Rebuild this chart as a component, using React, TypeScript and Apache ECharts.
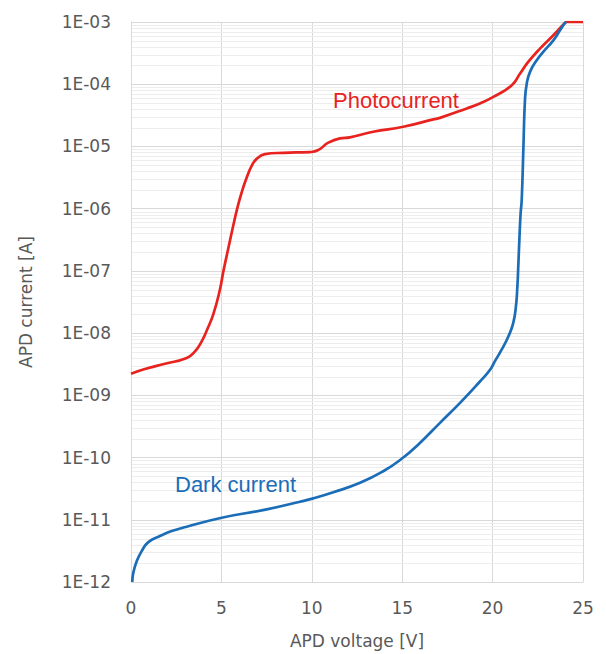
import React, { useEffect, useRef } from "react";
import * as echarts from "echarts";

// Photocurrent: [APD voltage (V), current (A)]
const photoVoltage = [0, 0.77, 1.88, 3.08, 3.54, 3.91, 4.19, 4.55, 4.92, 5.1, 5.38, 5.62, 5.88, 6.12, 6.4, 6.68, 6.95, 7.41, 8.42, 9.9, 10.36, 10.91, 11.56, 12.11, 13.4, 15.06, 16.72, 17.09, 18.57, 19.3, 20.04, 21.06, 21.52, 21.97, 22.62, 23.36, 24.0, 24.1, 25];
const photoCurrent = [2.23e-9, 2.65e-9, 3.22e-9, 3.98e-9, 5.08e-9, 7.35e-9, 1.1e-8, 2.0e-8, 5.01e-8, 9.55e-8, 2.29e-7, 4.79e-7, 1.02e-6, 1.82e-6, 3.16e-6, 4.9e-6, 6.31e-6, 7.53e-6, 7.91e-6, 8.13e-6, 8.75e-6, 1.15e-5, 1.35e-5, 1.4e-5, 1.72e-5, 2.07e-5, 2.72e-5, 2.88e-5, 4.08e-5, 4.91e-5, 6.27e-5, 9.64e-5, 1.49e-4, 2.28e-4, 3.74e-4, 6.12e-4, 9.64e-4, 1e-3, 1e-3];

// Dark current
const darkVoltage = [0.07, 0.13, 0.32, 0.59, 0.96, 1.6, 2.25, 3.08, 5.02, 7.51, 9.35, 10.03, 11.19, 12.67, 13.95, 14.97, 15.98, 17.09, 18.2, 19.3, 19.86, 20.13, 20.5, 20.87, 21.14, 21.29, 21.37, 21.42, 21.48, 21.55, 21.61, 21.7, 21.79, 21.89, 22.07, 22.44, 22.8, 23.36, 23.73, 24.0, 24.08];
const darkCurrent = [1e-12, 1.42e-12, 2.17e-12, 3.14e-12, 4.38e-12, 5.47e-12, 6.58e-12, 7.73e-12, 1.08e-11, 1.47e-11, 1.95e-11, 2.19e-11, 2.77e-11, 3.93e-11, 6.03e-11, 9.55e-11, 1.72e-10, 3.61e-10, 7.55e-10, 1.67e-9, 2.58e-9, 3.55e-9, 5.41e-9, 8.83e-9, 1.45e-8, 2.68e-8, 5.61e-8, 1.17e-7, 3.15e-7, 8.43e-7, 1.38e-6, 8.75e-6, 5.55e-5, 1.03e-4, 1.58e-4, 2.43e-4, 3.3e-4, 5.08e-4, 7.36e-4, 9.64e-4, 1e-3];

const xTicks = [0, 5, 10, 15, 20, 25];
const yMinExp = -12;
const yMaxExp = -3;
const minorMantissas = [2, 3, 4, 5, 6, 7, 8, 9];

const RED = "#e8231f";
const BLUE = "#1b6db8";
const TEXT = "#595959";
const GRID_MAJOR = "#d9d9d9";
const GRID_MINOR = "#ededed";
const AXIS_FONT = "'DejaVu Sans', Verdana, sans-serif";
const LABEL_FONT = "'Liberation Sans', Arial, sans-serif";

function minorGridValues(): number[] {
  const vals: number[] = [];
  for (let e = yMinExp; e < yMaxExp; e++) {
    for (const m of minorMantissas) vals.push(m * Math.pow(10, e));
  }
  return vals;
}

export default function App() {
  const ref = useRef<HTMLDivElement>(null);

  useEffect(() => {
    if (!ref.current) return;
    const chart = echarts.init(ref.current, undefined, { renderer: "svg" });
    const photo = photoVoltage.map((v, i) => [v, photoCurrent[i]]);
    const dark = darkVoltage.map((v, i) => [v, darkCurrent[i]]);
    const xMin = xTicks[0];
    const xMax = xTicks[xTicks.length - 1];

    chart.setOption({
      animation: false,
      backgroundColor: "#ffffff",
      grid: { left: 131, right: 23, top: 22, bottom: 71 },
      xAxis: {
        type: "value",
        min: xMin,
        max: xMax,
        interval: 5,
        name: "APD voltage [V]",
        nameLocation: "middle",
        nameGap: 50,
        nameTextStyle: { color: TEXT, fontSize: 17, fontFamily: AXIS_FONT },
        axisLine: { show: true, lineStyle: { color: GRID_MAJOR, width: 1 } },
        axisTick: { show: false },
        axisLabel: { color: TEXT, fontSize: 17, fontFamily: AXIS_FONT, margin: 17 },
        splitLine: { show: true, lineStyle: { color: GRID_MAJOR, width: 1 } },
      },
      yAxis: {
        type: "log",
        logBase: 10,
        min: Math.pow(10, yMinExp),
        max: Math.pow(10, yMaxExp),
        name: "APD current [A]",
        nameLocation: "middle",
        nameGap: 97,
        nameRotate: 90,
        nameTextStyle: { color: TEXT, fontSize: 17, fontFamily: AXIS_FONT },
        axisLine: { show: true, lineStyle: { color: GRID_MAJOR, width: 1 } },
        axisTick: { show: false },
        axisLabel: {
          color: TEXT,
          fontSize: 17,
          fontFamily: AXIS_FONT,
          margin: 20,
          formatter: (v: number) => {
            const e = Math.round(Math.log10(v));
            return "1E-" + String(-e).padStart(2, "0");
          },
        },
        splitLine: { show: true, lineStyle: { color: GRID_MAJOR, width: 1 } },
      },
      series: [
        {
          type: "custom",
          z: 1,
          silent: true,
          data: minorGridValues().map((v) => [xMin, v]),
          renderItem: (params: any, api: any) => {
            const val = api.value(1);
            const p0 = api.coord([xMin, val]);
            const p1 = api.coord([xMax, val]);
            const y = Math.round(p0[1]) + 0.5;
            return {
              type: "line",
              shape: { x1: p0[0] + 1, y1: y, x2: p1[0], y2: y },
              style: { stroke: GRID_MINOR, lineWidth: 1 },
            };
          },
        },
        {
          name: "Photocurrent",
          type: "line",
          z: 3,
          data: photo,
          symbol: "none",
          smooth: 0.5,
          lineStyle: { color: RED, width: 2.7 },
        },
        {
          name: "Dark current",
          type: "line",
          z: 3,
          data: dark,
          symbol: "none",
          smooth: 0.5,
          lineStyle: { color: BLUE, width: 2.7 },
        },
      ],
      graphic: [
        {
          type: "text",
          left: 333,
          top: 89,
          z: 20,
          style: { text: "Photocurrent", fill: RED, fontSize: 22, fontFamily: LABEL_FONT },
        },
        {
          type: "text",
          left: 175,
          top: 473,
          z: 20,
          style: { text: "Dark current", fill: BLUE, fontSize: 22, fontFamily: LABEL_FONT },
        },
      ],
    });

    return () => chart.dispose();
  }, []);

  return (
    <div
      ref={ref}
      style={{ position: "fixed", left: 0, top: 0, width: 606, height: 654, background: "#fff" }}
    />
  );
}
